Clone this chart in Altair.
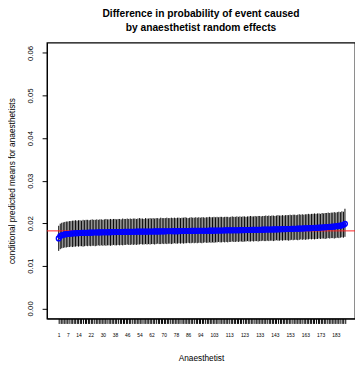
import altair as alt
import pandas as pd

means = [
    0.01643, 0.01698, 0.01718, 0.01729, 0.01737, 0.01743, 0.01748, 0.01752, 0.01756, 0.01759,
    0.01762, 0.01764, 0.01766, 0.01768, 0.01770, 0.01772, 0.01773, 0.01775, 0.01776, 0.01777,
    0.01778, 0.01779, 0.01780, 0.01781, 0.01782, 0.01783, 0.01784, 0.01785, 0.01786, 0.01787,
    0.01788, 0.01788, 0.01789, 0.01790, 0.01790, 0.01791, 0.01792, 0.01792, 0.01793, 0.01794,
    0.01794, 0.01795, 0.01795, 0.01796, 0.01797, 0.01797, 0.01798, 0.01798, 0.01799, 0.01800,
    0.01800, 0.01801, 0.01801, 0.01802, 0.01802, 0.01803, 0.01803, 0.01804, 0.01804, 0.01805,
    0.01805, 0.01806, 0.01806, 0.01807, 0.01807, 0.01808, 0.01808, 0.01809, 0.01809, 0.01810,
    0.01810, 0.01811, 0.01811, 0.01812, 0.01812, 0.01813, 0.01813, 0.01814, 0.01814, 0.01815,
    0.01815, 0.01816, 0.01816, 0.01817, 0.01817, 0.01818, 0.01818, 0.01819, 0.01819, 0.01820,
    0.01820, 0.01821, 0.01821, 0.01822, 0.01822, 0.01823, 0.01823, 0.01824, 0.01824, 0.01825,
    0.01825, 0.01826, 0.01826, 0.01827, 0.01828, 0.01828, 0.01829, 0.01829, 0.01830, 0.01831,
    0.01831, 0.01832, 0.01832, 0.01833, 0.01834, 0.01834, 0.01835, 0.01836, 0.01836, 0.01837,
    0.01838, 0.01838, 0.01839, 0.01840, 0.01840, 0.01841, 0.01842, 0.01843, 0.01843, 0.01844,
    0.01845, 0.01846, 0.01846, 0.01847, 0.01848, 0.01849, 0.01850, 0.01850, 0.01851, 0.01852,
    0.01853, 0.01854, 0.01855, 0.01856, 0.01857, 0.01858, 0.01859, 0.01860, 0.01861, 0.01862,
    0.01863, 0.01864, 0.01865, 0.01867, 0.01868, 0.01869, 0.01870, 0.01872, 0.01873, 0.01875,
    0.01876, 0.01878, 0.01879, 0.01881, 0.01882, 0.01884, 0.01886, 0.01888, 0.01890, 0.01892,
    0.01894, 0.01896, 0.01898, 0.01900, 0.01903, 0.01905, 0.01908, 0.01911, 0.01914, 0.01917,
    0.01920, 0.01924, 0.01928, 0.01932, 0.01937, 0.01942, 0.01949, 0.01958, 0.01985,
]

ci_upper = [
    0.0194, 0.0199, 0.0201, 0.0202, 0.0203, 0.0204, 0.0204, 0.0205, 0.0205, 0.0206,
    0.0206, 0.0207, 0.0206, 0.0207, 0.0207, 0.0206, 0.0208, 0.0207, 0.0208, 0.0208,
    0.0207, 0.0208, 0.0209, 0.0208, 0.0208, 0.0209, 0.0208, 0.0209, 0.0209, 0.0208,
    0.0209, 0.0210, 0.0209, 0.0209, 0.0210, 0.0209, 0.0210, 0.0210, 0.0209, 0.0210,
    0.0210, 0.0209, 0.0211, 0.0210, 0.0210, 0.0211, 0.0210, 0.0211, 0.0210, 0.0211,
    0.0211, 0.0210, 0.0211, 0.0212, 0.0211, 0.0211, 0.0210, 0.0212, 0.0211, 0.0211,
    0.0212, 0.0211, 0.0212, 0.0211, 0.0212, 0.0212, 0.0211, 0.0213, 0.0212, 0.0212,
    0.0212, 0.0213, 0.0212, 0.0212, 0.0213, 0.0212, 0.0213, 0.0212, 0.0213, 0.0213,
    0.0212, 0.0213, 0.0213, 0.0214, 0.0213, 0.0212, 0.0213, 0.0214, 0.0213, 0.0213,
    0.0214, 0.0213, 0.0214, 0.0213, 0.0214, 0.0214, 0.0213, 0.0214, 0.0214, 0.0215,
    0.0214, 0.0214, 0.0215, 0.0214, 0.0215, 0.0214, 0.0215, 0.0215, 0.0214, 0.0215,
    0.0215, 0.0215, 0.0214, 0.0215, 0.0216, 0.0215, 0.0215, 0.0216, 0.0215, 0.0216,
    0.0215, 0.0216, 0.0216, 0.0215, 0.0216, 0.0216, 0.0217, 0.0216, 0.0216, 0.0217,
    0.0216, 0.0217, 0.0217, 0.0216, 0.0217, 0.0217, 0.0218, 0.0217, 0.0218, 0.0217,
    0.0218, 0.0218, 0.0217, 0.0218, 0.0219, 0.0218, 0.0218, 0.0219, 0.0218, 0.0219,
    0.0219, 0.0219, 0.0220, 0.0219, 0.0220, 0.0220, 0.0219, 0.0220, 0.0221, 0.0220,
    0.0221, 0.0220, 0.0221, 0.0221, 0.0222, 0.0221, 0.0222, 0.0222, 0.0223, 0.0222,
    0.0223, 0.0223, 0.0222, 0.0224, 0.0223, 0.0224, 0.0224, 0.0225, 0.0224, 0.0225,
    0.0225, 0.0226, 0.0225, 0.0226, 0.0227, 0.0226, 0.0228, 0.0227, 0.0234,
]

ci_lower = [
    0.0135, 0.0139, 0.0141, 0.0142, 0.0143, 0.0143, 0.0144, 0.0144, 0.0145, 0.0144,
    0.0145, 0.0145, 0.0146, 0.0145, 0.0146, 0.0146, 0.0145, 0.0146, 0.0147, 0.0146,
    0.0147, 0.0146, 0.0147, 0.0147, 0.0146, 0.0147, 0.0148, 0.0147, 0.0148, 0.0147,
    0.0148, 0.0147, 0.0148, 0.0148, 0.0147, 0.0148, 0.0149, 0.0148, 0.0148, 0.0149,
    0.0148, 0.0149, 0.0148, 0.0149, 0.0149, 0.0150, 0.0149, 0.0149, 0.0150, 0.0149,
    0.0150, 0.0149, 0.0150, 0.0150, 0.0151, 0.0150, 0.0150, 0.0151, 0.0150, 0.0151,
    0.0150, 0.0151, 0.0151, 0.0150, 0.0151, 0.0152, 0.0151, 0.0151, 0.0152, 0.0151,
    0.0152, 0.0151, 0.0152, 0.0152, 0.0151, 0.0152, 0.0153, 0.0152, 0.0152, 0.0153,
    0.0152, 0.0153, 0.0152, 0.0153, 0.0153, 0.0154, 0.0153, 0.0153, 0.0154, 0.0153,
    0.0154, 0.0153, 0.0154, 0.0154, 0.0153, 0.0154, 0.0155, 0.0154, 0.0154, 0.0155,
    0.0154, 0.0155, 0.0154, 0.0155, 0.0155, 0.0156, 0.0155, 0.0155, 0.0156, 0.0155,
    0.0156, 0.0155, 0.0156, 0.0156, 0.0157, 0.0156, 0.0156, 0.0157, 0.0156, 0.0157,
    0.0157, 0.0156, 0.0157, 0.0157, 0.0158, 0.0157, 0.0157, 0.0158, 0.0157, 0.0158,
    0.0158, 0.0157, 0.0158, 0.0158, 0.0159, 0.0158, 0.0158, 0.0159, 0.0158, 0.0159,
    0.0159, 0.0158, 0.0159, 0.0160, 0.0159, 0.0159, 0.0160, 0.0159, 0.0160, 0.0160,
    0.0160, 0.0159, 0.0160, 0.0161, 0.0160, 0.0161, 0.0161, 0.0160, 0.0161, 0.0162,
    0.0161, 0.0162, 0.0161, 0.0162, 0.0162, 0.0163, 0.0162, 0.0163, 0.0162, 0.0163,
    0.0163, 0.0164, 0.0163, 0.0164, 0.0164, 0.0163, 0.0164, 0.0165, 0.0164, 0.0165,
    0.0165, 0.0164, 0.0165, 0.0166, 0.0165, 0.0166, 0.0167, 0.0166, 0.0168,
]

x_tick_labels = [1, 7, 14, 22, 30, 38, 46, 54, 62, 70, 78, 86, 94,
                 103, 113, 123, 133, 143, 153, 163, 173, 183]
y_ticks = [0.00, 0.01, 0.02, 0.03, 0.04, 0.05, 0.06]
reference_value = 0.0182

title_lines = ["Difference in probability of event caused",
               "by anaesthetist random effects"]
x_title = "Anaesthetist"
y_title = "conditional predicted means for anaesthetists"

FONT = "Liberation Sans"

anaesthetist = list(range(1, len(means) + 1))
df = pd.DataFrame({
    "anaesthetist": anaesthetist,
    "mean": means,
    "lower": ci_lower,
    "upper": ci_upper,
})
ref_df = pd.DataFrame({"ref": [reference_value]})

x_scale = alt.Scale(domain=[-6.7, 195.6], nice=False, zero=False)
y_scale = alt.Scale(domain=[-0.0024, 0.0624], nice=False, zero=False)

label_list = ",".join(str(v) for v in x_tick_labels)
x_axis = alt.Axis(
    title=x_title,
    values=anaesthetist,
    labelExpr=f"indexof([{label_list}], datum.value) >= 0 ? datum.label : ''",
    grid=False, domain=True, domainColor="black", domainWidth=1,
    tickSize=5, tickColor="black", tickWidth=1,
    labelFontSize=5, labelPadding=9, labelOverlap=False, labelFlush=False,
    labelColor="black", labelFont=FONT,
    titleFont=FONT, titleFontSize=8.5, titleFontWeight="normal",
    titleColor="black", titlePadding=17,
)
y_axis = alt.Axis(
    title=y_title,
    values=y_ticks, format=".2f",
    grid=False, domain=True, domainColor="black", domainWidth=1,
    tickSize=5, tickColor="black", tickWidth=1,
    labelFontSize=8, labelAngle=270, labelAlign="center", labelBaseline="bottom",
    labelPadding=8, labelColor="black", labelFont=FONT,
    titleFont=FONT, titleFontSize=8.5, titleFontWeight="normal",
    titleColor="black", titlePadding=10,
)

bars = alt.Chart(df).mark_rule(color="black", strokeWidth=1).encode(
    x=alt.X("anaesthetist:Q", scale=x_scale, axis=x_axis),
    y=alt.Y("lower:Q", scale=y_scale, axis=y_axis),
    y2="upper:Q",
)
ref_line = alt.Chart(ref_df).mark_rule(color="#ff2020", strokeWidth=1).encode(
    y=alt.Y("ref:Q", scale=y_scale, axis=y_axis),
)
points = alt.Chart(df).mark_point(
    shape="circle", filled=False, color="#0000ff", size=24, strokeWidth=1.4, opacity=1
).encode(
    x=alt.X("anaesthetist:Q", scale=x_scale, axis=x_axis),
    y=alt.Y("mean:Q", scale=y_scale, axis=y_axis),
)

chart = alt.layer(bars, ref_line, points).properties(
    width=316, height=283,
    autosize=alt.AutoSizeParams(type="none"),
    padding={"left": 40, "top": 31, "right": 0, "bottom": 43},
    background="white",
    title=alt.TitleParams(
        text=title_lines, font=FONT, fontSize=10.5, fontWeight="bold",
        color="black", anchor="middle", offset=10, lineHeight=13.5,
    ),
).configure_view(stroke="black", strokeWidth=1.3)

chart.save("out.html", embed_options={"renderer": "svg", "actions": False})
